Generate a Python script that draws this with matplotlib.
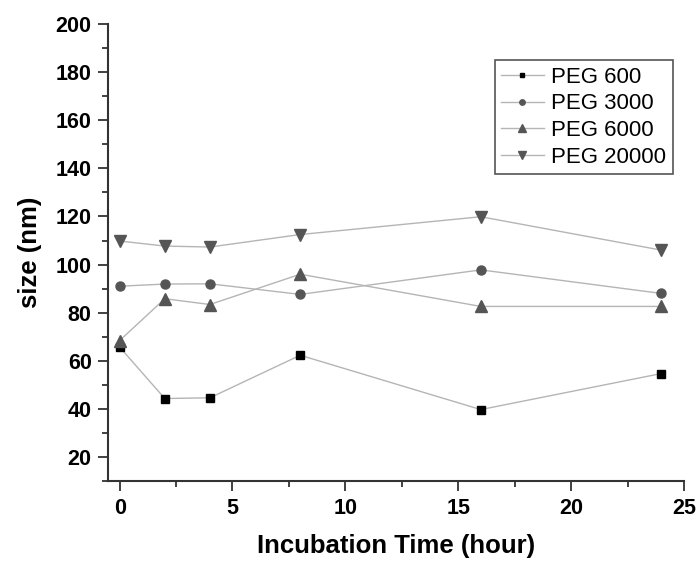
import matplotlib
matplotlib.use("Agg")
import matplotlib.pyplot as plt
from matplotlib.ticker import MultipleLocator

plt.rcParams['font.family'] = ['Liberation Sans', 'DejaVu Sans']

# incubation time (hour)
hours = [0, 2, 4, 8, 16, 24]

# particle size (nm)
peg600 = [65.7, 44.3, 44.6, 62.3, 39.7, 54.7]
peg3000 = [91.0, 91.9, 92.0, 87.6, 97.8, 88.0]
peg6000 = [68.4, 85.8, 83.4, 96.0, 82.6, 82.6]
peg20000 = [109.8, 107.7, 107.3, 112.5, 119.9, 106.0]

labels = ["PEG 600", "PEG 3000", "PEG 6000", "PEG 20000"]

fig = plt.figure(figsize=(6.99, 5.61), dpi=100)
ax = fig.add_axes([0.155, 0.1426, 0.8235, 0.8144])

line_c = "#b5b5b5"
styles = [("s", "black", 6), ("o", "#555555", 6.5), ("^", "#555555", 8.5), ("v", "#555555", 8.5)]
for y, lab, (m, c, ms) in zip([peg600, peg3000, peg6000, peg20000], labels, styles):
    ax.plot(hours, y, color=line_c, lw=1.0, marker=m, markersize=ms,
            markerfacecolor=c, markeredgecolor=c, label=lab)

ax.set_xlim(-0.5, 25)
ax.set_ylim(10, 200)
ax.xaxis.set_major_locator(MultipleLocator(5))
ax.xaxis.set_minor_locator(MultipleLocator(2.5))
ax.yaxis.set_minor_locator(MultipleLocator(10))
ax.set_yticks(range(20, 201, 20))

for s in ["top", "right"]:
    ax.spines[s].set_visible(False)
for s in ["left", "bottom"]:
    ax.spines[s].set_linewidth(1.5)
    ax.spines[s].set_color("#333333")

ax.tick_params(which="major", direction="out", length=7, width=1.3, color="#333333",
               labelsize=15.5, pad=5)
ax.tick_params(which="minor", direction="out", length=4, width=1.3, color="#333333")
for t in ax.get_xticklabels() + ax.get_yticklabels():
    t.set_fontweight("bold")

ax.set_xlabel("Incubation Time (hour)", fontsize=18.5, fontweight="bold", labelpad=11)
ax.set_ylabel("size (nm)", fontsize=18.5, fontweight="bold", labelpad=10)

leg = ax.legend(loc="upper right", bbox_to_anchor=(0.981, 0.921), borderaxespad=0,
                fontsize=16, markerscale=0.6, handlelength=1.9, handletextpad=0.35,
                fancybox=False, edgecolor="#555555", framealpha=1,
                labelspacing=0.25, borderpad=0.3)
leg.get_frame().set_linewidth(1.2)

fig.savefig("out.png", dpi=100)
